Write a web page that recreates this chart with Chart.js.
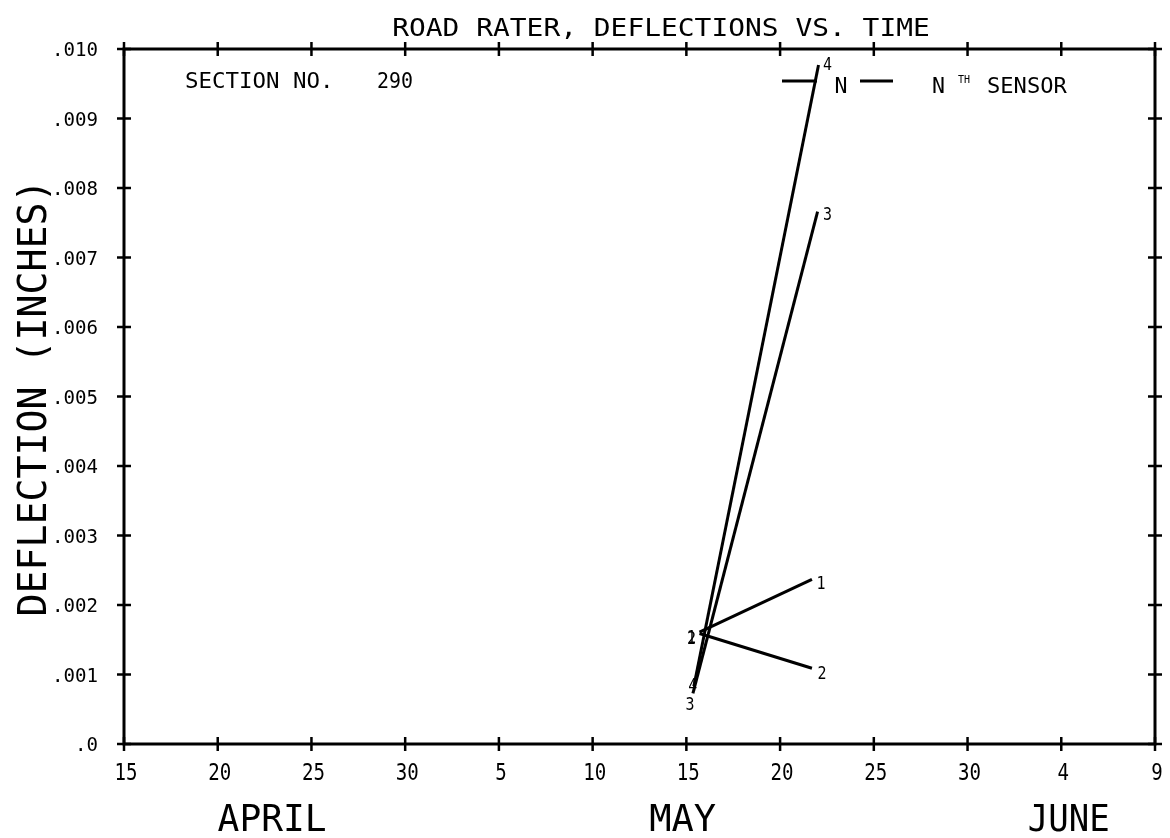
<!DOCTYPE html>
<html><head><meta charset="utf-8">
<script src="https://cdn.jsdelivr.net/npm/chart.js@4.4.1/dist/chart.umd.min.js"></script>
<style>html,body{margin:0;padding:0;background:#fff;overflow:hidden;} #wrap{width:1170px;height:838px;}</style>
</head><body><div id="wrap"><canvas id="c" width="1170" height="838"></canvas></div>
<script>
// ---- data (x = days after April 15, y = deflection in inches) ----
const xTickLabels = ['15','20','25','30','5','10','15','20','25','30','4','9'];
const yTickLabels = ['.0','.001','.002','.003','.004','.005','.006','.007','.008','.009','.010'];
const monthNames = ['APRIL','MAY','JUNE'];
const sensorNames = ['1','2','3','4'];
const sensor1Days = [30.7, 36.7];
const sensor1Defl = [0.00161, 0.00237];
const sensor2Days = [30.7, 36.7];
const sensor2Defl = [0.00159, 0.00109];
const sensor3Days = [30.35, 37.0];
const sensor3Defl = [0.00073, 0.00766];
const sensor4Days = [30.4, 37.05];
const sensor4Defl = [0.00083, 0.00977];
const titleText = 'ROAD RATER, DEFLECTIONS VS. TIME';
const sectionLabel = 'SECTION NO.';
const sectionNumber = '290';
const legendText = 'SENSOR';
const yAxisTitle = 'DEFLECTION (INCHES)';

const allDays = [sensor1Days, sensor2Days, sensor3Days, sensor4Days];
const allDefl = [sensor1Defl, sensor2Defl, sensor3Defl, sensor4Defl];

// ---- style / layout ----
const FONT = '"DejaVu Sans Mono"';
const monthAt = [7.9, 29.8, 50.4];
const monthCharW = [21.8, 22.3, 20.5];
const startLabelOff = [[-8,4],[-8,4],[-3,10],[-1,-2]];
const endLabelOff = [[9,3],[10,4],[10,2],[9,-1]];

function mono(ctx, text, x, y, capH, charW, align, rot) {
  const size = capH / 0.729;
  ctx.font = size + 'px ' + FONT;
  const nat = ctx.measureText(text).width;
  const sx = (charW * text.length) / nat;
  ctx.save();
  ctx.translate(x, y);
  if (rot) ctx.rotate(rot);
  ctx.scale(sx, 1);
  ctx.textAlign = align || 'center';
  ctx.textBaseline = 'alphabetic';
  ctx.fillStyle = '#000';
  ctx.fillText(text, 0, capH / 2);
  ctx.restore();
}

const decor = {
  id: 'decor',
  afterDatasetsDraw(chart) {
    const ctx = chart.ctx;
    const xs = chart.scales.x, ys = chart.scales.y;
    const L = xs.left, R = xs.right, T = ys.top, B = ys.bottom;
    ctx.save();
    ctx.strokeStyle = '#000';
    ctx.lineWidth = 3;
    ctx.lineCap = 'butt';
    ctx.strokeRect(L, T, R - L, B - T);
    ctx.lineWidth = 2.5;
    // x ticks (top & bottom) and labels
    xTickLabels.forEach((lab, i) => {
      const px = xs.getPixelForValue(xs.min + i * 5);
      ctx.beginPath();
      ctx.moveTo(px, B - 7); ctx.lineTo(px, B + 7);
      ctx.moveTo(px, T - 7); ctx.lineTo(px, T + 7);
      ctx.stroke();
      mono(ctx, lab, px + 2, 772, 16.5, 11.5, 'center');
    });
    // y ticks (left & right) and labels
    yTickLabels.forEach((lab, i) => {
      const py = ys.getPixelForValue(ys.min + i * 0.001);
      ctx.beginPath();
      ctx.moveTo(L - 7, py); ctx.lineTo(L + 7, py);
      ctx.moveTo(R - 7, py); ctx.lineTo(R + 7, py);
      ctx.stroke();
      mono(ctx, lab, L - 26, py, 14, 11.5, 'right');
    });
    // sensor number labels at each point
    chart.data.datasets.forEach((ds, i) => {
      const meta = chart.getDatasetMeta(i);
      const p0 = meta.data[0], p1 = meta.data[meta.data.length - 1];
      mono(ctx, sensorNames[i], p0.x + startLabelOff[i][0], p0.y + startLabelOff[i][1], 13, 9, 'center');
      mono(ctx, sensorNames[i], p1.x + endLabelOff[i][0], p1.y + endLabelOff[i][1], 13, 9, 'center');
    });
    // title, section, legend
    mono(ctx, titleText, 661, 27, 18, 16.8, 'center');
    mono(ctx, sectionLabel, 185, 80, 16, 13.5, 'left');
    mono(ctx, sectionNumber, 377, 80, 16, 12, 'left');
    ctx.lineWidth = 3;
    ctx.beginPath();
    ctx.moveTo(782, 81); ctx.lineTo(817, 81);
    ctx.moveTo(860, 81); ctx.lineTo(893, 81);
    ctx.stroke();
    mono(ctx, 'N', 841, 85, 16, 13, 'center');
    mono(ctx, 'N', 938.5, 85, 16, 13, 'center');
    mono(ctx, 'TH', 964, 79, 7, 6, 'center');
    mono(ctx, legendText, 987, 85, 16, 13.3, 'left');
    // months
    monthNames.forEach((m, i) => {
      mono(ctx, m, xs.getPixelForValue(monthAt[i]), 817, 27, monthCharW[i], 'center');
    });
    // y axis title
    mono(ctx, yAxisTitle, 32, 398, 28, 23, 'center', -Math.PI / 2);
    ctx.restore();
  }
};

new Chart(document.getElementById('c'), {
  type: 'line',
  data: {
    datasets: sensorNames.map((n, i) => ({
      label: 'Sensor ' + n,
      data: allDays[i].map((d, j) => ({ x: d, y: allDefl[i][j] })),
      borderColor: '#000',
      borderWidth: 3,
      pointRadius: 0,
      fill: false,
      tension: 0
    }))
  },
  options: {
    responsive: false,
    animation: false,
    devicePixelRatio: 1,
    layout: { padding: { left: 124, right: 15, top: 49, bottom: 94 } },
    plugins: { legend: { display: false }, tooltip: { enabled: false } },
    scales: {
      x: { type: 'linear', display: false, min: 0, max: 55, ticks: { stepSize: 5 } },
      y: { type: 'linear', display: false, min: 0, max: 0.010, ticks: { stepSize: 0.001 } }
    }
  },
  plugins: [decor]
});
</script>
</body></html>
